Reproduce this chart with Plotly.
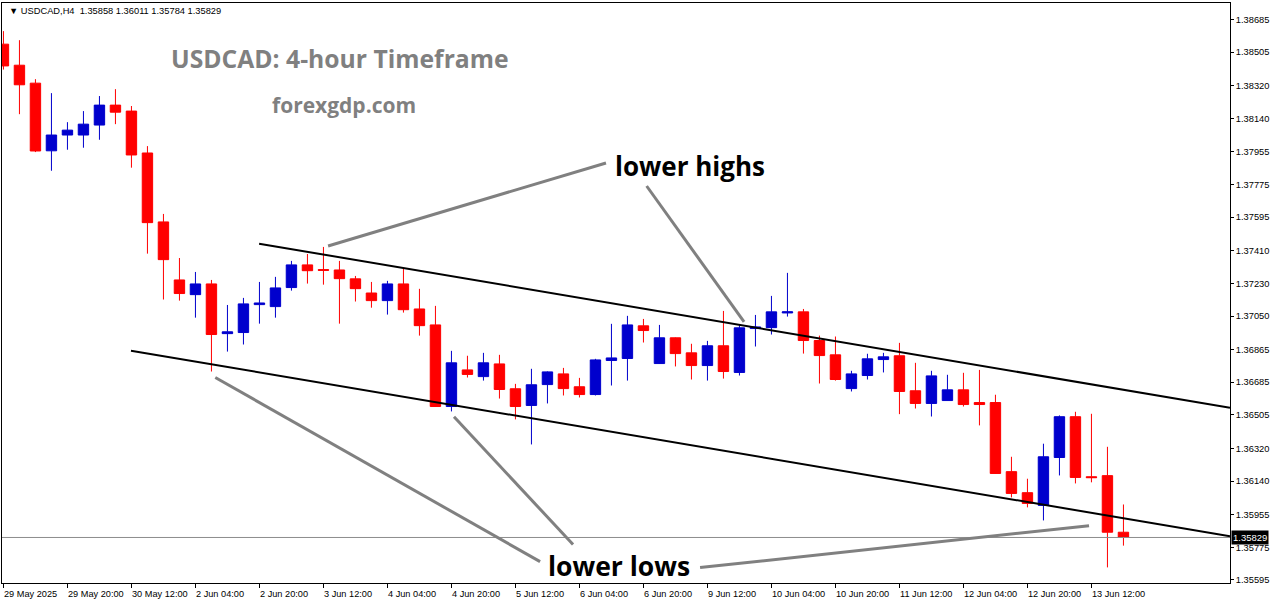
import plotly.graph_objects as go

# ---- data (USDCAD H4) ----
opens = [1.38549, 1.38433, 1.38334, 1.37961, 1.38048, 1.38048, 1.38103, 1.38213, 1.38180, 1.37949,
         1.37569, 1.37249, 1.37168, 1.37227, 1.36953, 1.36959, 1.37113, 1.37102, 1.37207, 1.37332,
         1.37306, 1.37304, 1.37255, 1.37177, 1.37135, 1.37227, 1.37089, 1.37001, 1.36551, 1.36753,
         1.36716, 1.36786, 1.36649, 1.36557, 1.36672, 1.36731, 1.36660, 1.36617, 1.36805, 1.36816,
         1.36996, 1.36788, 1.36930, 1.36847, 1.36777, 1.36886, 1.36739, 1.36981, 1.36986, 1.37067,
         1.37073, 1.36915, 1.36836, 1.36650, 1.36722, 1.36810, 1.36831, 1.36638, 1.36568, 1.36584,
         1.36643, 1.36573, 1.36573, 1.36192, 1.36076, 1.36006, 1.36270, 1.36495, 1.36164, 1.36170,
         1.35858]
highs = [1.38621, 1.38571, 1.38356, 1.38279, 1.38119, 1.38180, 1.38263, 1.38301, 1.38208, 1.37987,
         1.37613, 1.37370, 1.37293, 1.37249, 1.37111, 1.37150, 1.37238, 1.37266, 1.37354, 1.37392,
         1.37431, 1.37354, 1.37271, 1.37238, 1.37244, 1.37315, 1.37200, 1.37106, 1.36858, 1.36831,
         1.36847, 1.36836, 1.36676, 1.36759, 1.36745, 1.36764, 1.36709, 1.36814, 1.37007, 1.37051,
         1.37034, 1.37001, 1.36932, 1.36897, 1.36913, 1.37078, 1.37001, 1.37056, 1.37161, 1.37288,
         1.37089, 1.36942, 1.36937, 1.36748, 1.36842, 1.36847, 1.36902, 1.36792, 1.36748, 1.36726,
         1.36737, 1.36753, 1.36616, 1.36274, 1.36153, 1.36346, 1.36502, 1.36522, 1.36511, 1.36329,
         1.36011]
lows = [1.38409, 1.38163, 1.37954, 1.37851, 1.37967, 1.37978, 1.38022, 1.38108, 1.37868, 1.37394,
        1.37141, 1.37135, 1.37041, 1.36744, 1.36854, 1.36893, 1.37008, 1.37041, 1.37190, 1.37229,
        1.37223, 1.37008, 1.37130, 1.37096, 1.37058, 1.37069, 1.36942, 1.36549, 1.36524, 1.36711,
        1.36694, 1.36595, 1.36480, 1.36342, 1.36568, 1.36612, 1.36601, 1.36612, 1.36667, 1.36694,
        1.36904, 1.36786, 1.36772, 1.36700, 1.36694, 1.36705, 1.36722, 1.36882, 1.36948, 1.37047,
        1.36843, 1.36678, 1.36694, 1.36634, 1.36700, 1.36739, 1.36509, 1.36540, 1.36496, 1.36584,
        1.36551, 1.36447, 1.36180, 1.36050, 1.35995, 1.35923, 1.36171, 1.36127, 1.36133, 1.35664,
        1.35784]
closes = [1.38429, 1.38325, 1.37960, 1.38048, 1.38075, 1.38108, 1.38213, 1.38174, 1.37938, 1.37565,
          1.37361, 1.37174, 1.37227, 1.36948, 1.36963, 1.37117, 1.37122, 1.37205, 1.37332, 1.37300,
          1.37302, 1.37256, 1.37201, 1.37135, 1.37227, 1.37085, 1.36997, 1.36551, 1.36792, 1.36728,
          1.36792, 1.36645, 1.36551, 1.36671, 1.36742, 1.36650, 1.36617, 1.36808, 1.36819, 1.37001,
          1.36970, 1.36930, 1.36843, 1.36777, 1.36886, 1.36744, 1.36985, 1.36990, 1.37073, 1.37073,
          1.36915, 1.36832, 1.36700, 1.36731, 1.36814, 1.36825, 1.36634, 1.36568, 1.36720, 1.36643,
          1.36562, 1.36562, 1.36182, 1.36072, 1.36017, 1.36274, 1.36495, 1.36160, 1.36159, 1.35858,
          1.35829]

time_labels = ["29 May 2025", "29 May 20:00", "30 May 12:00", "2 Jun 04:00", "2 Jun 20:00",
               "3 Jun 12:00", "4 Jun 04:00", "4 Jun 20:00", "5 Jun 12:00", "6 Jun 04:00",
               "6 Jun 20:00", "9 Jun 12:00", "10 Jun 04:00", "10 Jun 20:00", "11 Jun 12:00",
               "12 Jun 04:00", "12 Jun 20:00", "13 Jun 12:00"]
label_every = 4

price_ticks = [1.38685, 1.38505, 1.38320, 1.38140, 1.37955, 1.37775, 1.37595, 1.37410, 1.37230,
               1.37050, 1.36865, 1.36685, 1.36505, 1.36320, 1.36140, 1.35955, 1.35775, 1.35595]
price_tick_text = ["%.5f" % v for v in price_ticks]

last_price = 1.35829

# channel lines (bar index, price)
upper_x = [15.98, 76.66]
upper_y = [1.37449, 1.36544]
lower_x = [7.97, 76.66]
lower_y = [1.36859, 1.35836]

# gray pointer lines (bar index, price)
pointers = [
    ([20.29, 37.66], [1.37436, 1.37894]),
    ([40.20, 46.29], [1.37767, 1.37018]),
    ([13.24, 33.54], [1.36711, 1.35696]),
    ([28.16, 35.60], [1.36495, 1.35790]),
    ([43.54, 67.85], [1.35663, 1.35894]),
]

x_idx = list(range(len(opens)))

fig = go.Figure()
fig.add_trace(go.Candlestick(
    x=x_idx, open=opens, high=highs, low=lows, close=closes,
    increasing=dict(line=dict(color="#0000CD", width=1), fillcolor="#0000CD"),
    decreasing=dict(line=dict(color="#FF0000", width=1), fillcolor="#FF0000"),
    whiskerwidth=0, showlegend=False, hoverinfo="skip",
))

# current price line
fig.add_trace(go.Scatter(x=[-1, 80], y=[last_price, last_price], mode="lines",
                         line=dict(color="#8c8c8c", width=1), showlegend=False, hoverinfo="skip"))
# channel lines
fig.add_trace(go.Scatter(x=upper_x, y=upper_y, mode="lines",
                         line=dict(color="black", width=2), showlegend=False, hoverinfo="skip"))
fig.add_trace(go.Scatter(x=lower_x, y=lower_y, mode="lines",
                         line=dict(color="black", width=2), showlegend=False, hoverinfo="skip"))
for px, py in pointers:
    fig.add_trace(go.Scatter(x=px, y=py, mode="lines",
                             line=dict(color="#808080", width=3), showlegend=False, hoverinfo="skip"))

annotations = []
# x-axis labels, left aligned at tick
for i, lab in enumerate(time_labels):
    annotations.append(dict(x=i * label_every, y=0, xref="x", yref="paper", text=lab,
                            showarrow=False, xanchor="left", yanchor="top", xshift=-1, yshift=-4,
                            font=dict(family="Liberation Sans", size=9.2, color="black")))

annotations += [
    dict(x=0.004, y=0.998, xref="paper", yref="paper",
         text="▼ USDCAD,H4  1.35858 1.36011 1.35784 1.35829", showarrow=False,
         xanchor="left", yanchor="top", font=dict(family="Liberation Sans", size=9.3, color="black")),
    dict(x=(340 - 2) / 1228, y=(583 - 59) / 580, xref="paper", yref="paper",
         text="<b>USDCAD: 4-hour Timeframe</b>", showarrow=False, xanchor="center", yanchor="middle",
         font=dict(family="Open Sans", size=24.7, color="#808080")),
    dict(x=(344 - 2) / 1228, y=(583 - 105) / 580, xref="paper", yref="paper",
         text="<b>forexgdp.com</b>", showarrow=False, xanchor="center", yanchor="middle",
         font=dict(family="Open Sans", size=21, color="#808080")),
    dict(x=(690 - 2) / 1228, y=(583 - 166) / 580, xref="paper", yref="paper",
         text="<b>lower highs</b>", showarrow=False, xanchor="center", yanchor="middle",
         font=dict(family="Open Sans", size=26, color="black")),
    dict(x=(619 - 2) / 1228, y=(583 - 566) / 580, xref="paper", yref="paper",
         text="<b>lower lows</b>", showarrow=False, xanchor="center", yanchor="middle",
         font=dict(family="Open Sans", size=26.5, color="black")),
    dict(x=1, y=last_price, xref="paper", yref="y", text="%.5f" % last_price, showarrow=False,
         xanchor="left", yanchor="middle", bgcolor="black", borderpad=1, xshift=1,
         font=dict(family="Liberation Sans", size=9.5, color="white")),
]

fig.update_layout(
    width=1276, height=604,
    margin=dict(l=2, r=46, t=3, b=21),
    paper_bgcolor="white", plot_bgcolor="white",
    boxgap=0.35, boxgroupgap=0,
    annotations=annotations,
    xaxis=dict(range=[-0.09, 76.66], rangeslider=dict(visible=False), showgrid=False, zeroline=False,
               showline=True, mirror=True, linecolor="black", linewidth=1,
               tickmode="array", tickvals=[i * label_every for i in range(len(time_labels))],
               ticks="outside", ticklen=4, tickcolor="black", showticklabels=False),
    yaxis=dict(range=[1.35578, 1.38776], side="right", showgrid=False, zeroline=False,
               showline=True, mirror=True, linecolor="black", linewidth=1,
               tickmode="array", tickvals=price_ticks, ticktext=price_tick_text,
               ticks="outside", ticklen=3, tickcolor="black",
               tickfont=dict(family="Liberation Sans", size=9.3, color="black")),
)

fig.write_html("out.html", config={"displayModeBar": False},
               post_script="document.body.style.margin='0';document.body.style.padding='0';")
